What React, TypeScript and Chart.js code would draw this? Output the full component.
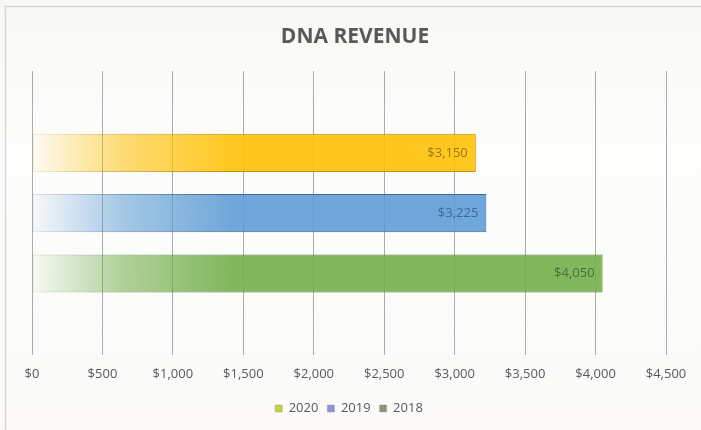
import React, { useEffect, useRef } from "react";
import { Chart, registerables } from "chart.js";

Chart.register(...registerables);

const chartTitle = "DNA REVENUE";
const categories = ["DNA Revenue"];
const seriesNames = ["2020", "2019", "2018"];
const revenue = [3150, 3225, 4050];
const axisMin = 0;
const axisMax = 4500;
const axisStep = 500;

const barRgb = ["255,192,0", "91,155,213", "112,173,71"];
const borderRgb = ["176,134,0", "44,86,138", "76,120,46"];
const labelColors = ["#9a7a10", "#3d6a98", "#46703a"];
const legendColors = ["#c6d33a", "#8e92cf", "#8f9477"];

const FONT = "'Open Sans', 'Liberation Sans', sans-serif";

export default function App() {
  const canvasRef = useRef<HTMLCanvasElement | null>(null);

  useEffect(() => {
    const canvas = canvasRef.current;
    if (!canvas) return;

    const gradient = (chart: any, rgb: string, a0: number, a1: number) => {
      const area = chart.chartArea;
      if (!area) return `rgba(${rgb},${a1})`;
      const g = chart.ctx.createLinearGradient(area.left, 0, area.left + 200, 0);
      g.addColorStop(0, `rgba(${rgb},${a0})`);
      g.addColorStop(0.45, `rgba(${rgb},${a0 + (a1 - a0) * 0.6})`);
      g.addColorStop(1, `rgba(${rgb},${a1})`);
      return g;
    };

    const bgPlugin = {
      id: "bgPlugin",
      beforeDraw(chart: any) {
        const c = chart.ctx;
        c.save();
        const g = c.createLinearGradient(0, 0, 0, chart.height);
        g.addColorStop(0, "#f9f8f4");
        g.addColorStop(0.35, "#fdfdfc");
        g.addColorStop(1, "#fbfaf8");
        c.fillStyle = g;
        c.fillRect(0, 0, chart.width, chart.height);
        c.strokeStyle = "#d6d6d6";
        c.lineWidth = 1.5;
        c.strokeRect(5.5, 6.5, chart.width + 10, chart.height + 10);
        c.fillStyle = "#595959";
        c.font = `bold 21px ${FONT}`;
        c.textAlign = "center";
        c.textBaseline = "middle";
        c.fillText(chartTitle, 355, 37);
        c.restore();
      },
    };

    const labelPlugin = {
      id: "labelPlugin",
      afterDatasetsDraw(chart: any) {
        const c = chart.ctx;
        c.save();
        c.font = `13px ${FONT}`;
        c.textAlign = "right";
        c.textBaseline = "middle";
        chart.data.datasets.forEach((ds: any, i: number) => {
          const meta = chart.getDatasetMeta(i);
          meta.data.forEach((el: any, j: number) => {
            const v = ds.data[j];
            c.fillStyle = labelColors[i];
            c.fillText("$" + Number(v).toLocaleString("en-US"), el.x - 8, el.y);
          });
        });
        c.restore();
      },
    };

    const chart = new Chart(canvas, {
      type: "bar",
      data: {
        labels: categories,
        datasets: seriesNames.map((name, i) => ({
          label: name,
          data: [revenue[i]],
          backgroundColor: (ctx: any) => gradient(ctx.chart, barRgb[i], 0.03, 0.88),
          borderColor: (ctx: any) => gradient(ctx.chart, borderRgb[i], 0.15, 0.9),
          borderWidth: 1,
          borderSkipped: false,
          categoryPercentage: 0.636,
          barPercentage: 0.633,
        })),
      },
      options: {
        indexAxis: "y",
        responsive: false,
        animation: false,
        layout: { padding: { left: 32, right: 35, top: 71, bottom: 5 } },
        scales: {
          x: {
            min: axisMin,
            max: axisMax,
            ticks: {
              stepSize: axisStep,
              color: "#595959",
              font: { family: FONT, size: 13 },
              padding: 11,
              callback: (v: any) => "$" + Number(v).toLocaleString("en-US"),
            },
            grid: { color: "#ababab", drawTicks: false, lineWidth: 1 },
            border: { display: false },
          },
          y: { display: false },
        },
        plugins: {
          title: { display: false },
          legend: {
            display: true,
            position: "bottom",
            labels: {
              boxWidth: 7,
              boxHeight: 7,
              padding: 9,
              color: "#595959",
              font: { family: FONT, size: 13 },
              generateLabels: () =>
                seriesNames.map((name, i) => ({
                  text: name,
                  fillStyle: legendColors[i],
                  strokeStyle: "#9a9a9a",
                  lineWidth: 0.5,
                  hidden: false,
                  datasetIndex: i,
                  fontColor: "#595959",
                })),
            },
          },
          tooltip: { enabled: false },
        },
      },
      plugins: [bgPlugin, labelPlugin],
    });

    return () => chart.destroy();
  }, []);

  return (
    <div style={{ position: "absolute", left: 0, top: 0, width: 701, height: 430 }}>
      <canvas ref={canvasRef} width={701} height={430} style={{ display: "block" }} />
    </div>
  );
}
